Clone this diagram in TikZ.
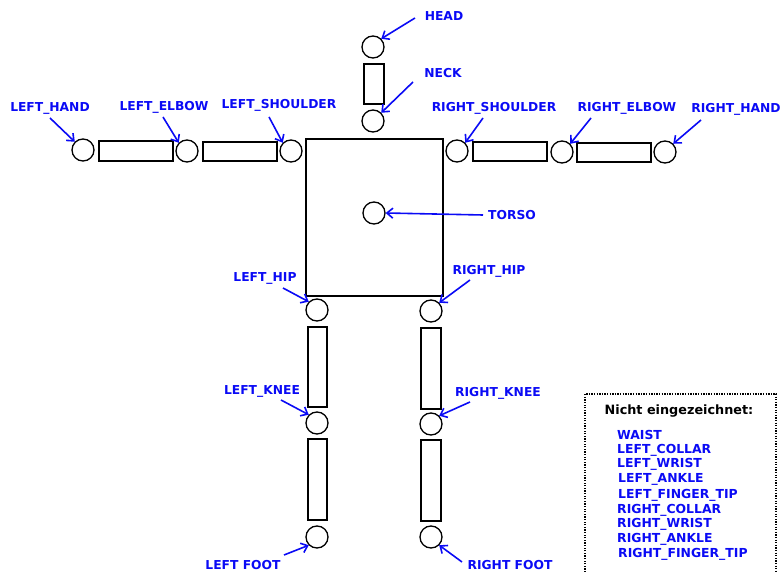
\documentclass[tikz,border=0pt]{standalone}
\usepackage{fontspec}
\setmainfont{DejaVu Sans}
\usetikzlibrary{arrows.meta}
\definecolor{lblue}{RGB}{10,10,245}
\tikzset{
  joint/.style={circle,draw,line width=1.3pt,minimum size=22pt,inner sep=0pt},
  bone/.style={draw,line width=1.3pt},
  lbl/.style={text=lblue,font=\fontsize{12.3}{13}\selectfont\bfseries,inner sep=0pt},
  arr/.style={draw=lblue,line width=1.6pt,-{Straight Barb[length=6pt,width=10pt]}},
  item/.style={text=lblue,font=\fontsize{12.4}{13}\selectfont\bfseries,inner sep=0pt,anchor=west}
}
\begin{document}
\begin{tikzpicture}[x=1pt,y=-1pt]
\useasboundingbox (0,0) rectangle (782,572);
% bones
\draw[bone] (364,64) rectangle (384,104);
\draw[bone] (306,139) rectangle (443,296);
\draw[bone] (99,141) rectangle (173,161);
\draw[bone] (203,142) rectangle (277,161);
\draw[bone] (473,142) rectangle (547,161);
\draw[bone] (577,143) rectangle (651,162);
\draw[bone] (308,327) rectangle (327,407);
\draw[bone] (308,439) rectangle (327,520);
\draw[bone] (421,328) rectangle (441,409);
\draw[bone] (421,440) rectangle (441,521);
% joints
\node[joint] (head) at (373,47) {};
\node[joint] (neck) at (373,121) {};
\node[joint] (torso) at (374,213) {};
\node[joint] (lsh) at (291,151) {};
\node[joint] (lel) at (187,151) {};
\node[joint] (lha) at (83,150) {};
\node[joint] (rsh) at (457,151) {};
\node[joint] (rel) at (562,152) {};
\node[joint] (rha) at (665,152) {};
\node[joint] (lhip) at (317,310) {};
\node[joint] (lkn) at (317,423) {};
\node[joint] (lft) at (317,537) {};
\node[joint] (rhip) at (431,311) {};
\node[joint] (rkn) at (431,424) {};
\node[joint] (rft) at (431,537) {};
% labels
\node[lbl] (Lhead) at (444,16) {HEAD};
\node[lbl] (Lneck) at (443,73) {NECK};
\node[lbl] (Llha) at (50,108) {LEFT\_HAND};
\node[lbl] (Llel) at (164,107) {LEFT\_ELBOW};
\node[lbl] (Llsh) at (279,105) {LEFT\_SHOULDER};
\node[lbl] (Lrsh) at (494,108) {RIGHT\_SHOULDER};
\node[lbl] (Lrel) at (627,108) {RIGHT\_ELBOW};
\node[lbl] (Lrha) at (736,109) {RIGHT\_HAND};
\node[lbl] (Ltorso) at (512,215) {TORSO};
\node[lbl] (Llhip) at (265,278) {LEFT\_HIP};
\node[lbl] (Lrhip) at (489,271) {RIGHT\_HIP};
\node[lbl] (Llkn) at (262,391) {LEFT\_KNEE};
\node[lbl] (Lrkn) at (498,393) {RIGHT\_KNEE};
\node[lbl] (Llft) at (243,565) {LEFT FOOT};
\node[lbl] (Lrft) at (510,565) {RIGHT FOOT};
% arrow starts
\coordinate (shead) at (415,18);
\coordinate (sneck) at (413,82);
\coordinate (slha) at (50,118);
\coordinate (slel) at (163,117);
\coordinate (slsh) at (269,117);
\coordinate (srsh) at (483,118);
\coordinate (srel) at (591,118);
\coordinate (srha) at (701,120);
\coordinate (storso) at (483,215);
\coordinate (slhip) at (283,288);
\coordinate (srhip) at (470,280);
\coordinate (slkn) at (281,400);
\coordinate (srkn) at (470,402);
\coordinate (slft) at (284,555);
\coordinate (srft) at (462,562);
\draw[arr] (shead) -- (head.north east);
\draw[arr] (sneck) -- (neck.north east);
\draw[arr] (slha) -- (lha.north west);
\draw[arr] (slel) -- (lel.north west);
\draw[arr] (slsh) -- (lsh.north west);
\draw[arr] (srsh) -- (rsh.north east);
\draw[arr] (srel) -- (rel.north east);
\draw[arr] (srha) -- (rha.north east);
\draw[arr] (storso) -- (torso.east);
\draw[arr] (slhip) -- (lhip.north west);
\draw[arr] (srhip) -- (rhip.north east);
\draw[arr] (slkn) -- (lkn.north west);
\draw[arr] (srkn) -- (rkn.north east);
\draw[arr] (slft) -- (lft.south west);
\draw[arr] (srft) -- (rft.south east);
% legend box
\draw[line width=1.3pt,dash pattern=on 1.3pt off 1.3pt] (585,580) -- (585,394) -- (776,394) -- (776,580);
\node[font=\fontsize{12.8}{13}\selectfont\bfseries,inner sep=0pt] (ltitle) at (679,411) {Nicht eingezeichnet:};
\node[item] (i1) at (617,435) {WAIST};
\node[item] (i2) at (617,450) {LEFT\_COLLAR};
\node[item] (i3) at (617,464) {LEFT\_WRIST};
\node[item] (i4) at (618,479) {LEFT\_ANKLE};
\node[item] (i5) at (618,495) {LEFT\_FINGER\_TIP};
\node[item] (i6) at (617,510) {RIGHT\_COLLAR};
\node[item] (i7) at (617,524) {RIGHT\_WRIST};
\node[item] (i8) at (617,539) {RIGHT\_ANKLE};
\node[item] (i9) at (618,554) {RIGHT\_FINGER\_TIP};
\end{tikzpicture}
\end{document}
